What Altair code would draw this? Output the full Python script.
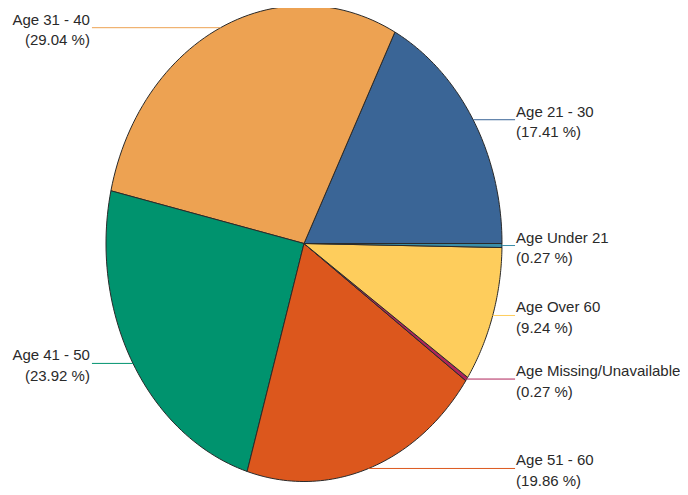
import altair as alt
import pandas as pd

# Slices, counter-clockwise from 3 o'clock
categories = ["Age 21 - 30", "Age 31 - 40", "Age 41 - 50", "Age 51 - 60",
              "Age Missing/Unavailable", "Age Over 60", "Age Under 21"]
percents = [17.41, 29.04, 23.92, 19.86, 0.27, 9.24, 0.27]
colors = ["#3a6596", "#eda252", "#00936e", "#dc571d", "#b0245a", "#fecd5c", "#3a8ea8"]

df = pd.DataFrame({"cat": categories, "pct": percents, "idx": list(range(len(categories)))})

W, H = 672, 487
XDOM = [-1.49495, 1.89899]
YDOM = [-1.05672, 0.98950]
X_RIGHT, X_LEFT = 1.066, -1.071
FONT = "Liberation Sans, Arial, sans-serif"

xs = alt.Scale(domain=XDOM, nice=False, zero=False)
ys = alt.Scale(domain=YDOM, nice=False, zero=False)
cscale = alt.Scale(domain=categories, range=colors)

base = (
    alt.Chart(df)
    .transform_window(cum="sum(pct)", frame=[None, 0], sort=[alt.SortField("idx")])
    .transform_joinaggregate(total="sum(pct)")
    .transform_calculate(
        a0="2*PI*(datum.cum-datum.pct)/datum.total",
        a1="2*PI*datum.cum/datum.total",
    )
    .transform_calculate(am="(datum.a0+datum.a1)/2")
    .transform_calculate(
        xm="cos(datum.am)",
        ym="sin(datum.am)",
        right="cos(datum.am) >= 0",
    )
    .transform_calculate(
        xe=f"datum.right ? {X_RIGHT} : {X_LEFT}",
        label="[datum.cat, '(' + format(datum.pct, '.2f') + ' %)']",
    )
)

N = 60
pie = (
    base.transform_calculate(steps=f"sequence(0, {N + 3})")
    .transform_flatten(["steps"])
    .transform_calculate(
        ang=f"datum.a0 + (datum.a1 - datum.a0) * (datum.steps - 1) / {N}",
        center=f"datum.steps == 0 || datum.steps == {N + 2}",
    )
    .transform_calculate(
        px="datum.center ? 0 : cos(datum.ang)",
        py="datum.center ? 0 : sin(datum.ang)",
    )
    .mark_line(strokeWidth=1, strokeJoin="round")
    .encode(
        x=alt.X("px:Q", scale=xs, axis=None),
        y=alt.Y("py:Q", scale=ys, axis=None),
        fill=alt.Fill("cat:N", scale=cscale, legend=None),
        stroke=alt.value("#2a2a2a"),
        detail="cat:N",
        order="steps:Q",
    )
)

leaders = base.mark_rule(strokeWidth=1).encode(
    x=alt.X("xm:Q", scale=xs, axis=None),
    x2="xe:Q",
    y=alt.Y("ym:Q", scale=ys, axis=None),
    color=alt.Color("cat:N", scale=cscale, legend=None),
)

text_right = base.transform_filter("datum.right").mark_text(
    align="left", baseline="alphabetic", dx=1, dy=-3, font=FONT, fontSize=15,
    lineHeight=20.5, color="#2a2a2a"
).encode(
    x=alt.X("xe:Q", scale=xs, axis=None),
    y=alt.Y("ym:Q", scale=ys, axis=None),
    text=alt.Text("label:N"),
)

text_left = base.transform_filter("!datum.right").mark_text(
    align="right", baseline="alphabetic", dx=-2, dy=-3, font=FONT, fontSize=15,
    lineHeight=20.5, color="#2a2a2a"
).encode(
    x=alt.X("xe:Q", scale=xs, axis=None),
    y=alt.Y("ym:Q", scale=ys, axis=None),
    text=alt.Text("label:N"),
)

chart = (
    alt.layer(pie, leaders, text_right, text_left)
    .properties(width=W, height=H, autosize=alt.AutoSizeParams(type="none"), padding=0)
    .configure_view(stroke=None)
)

chart.save("out.html", embed_options={"renderer": "svg", "actions": False})
